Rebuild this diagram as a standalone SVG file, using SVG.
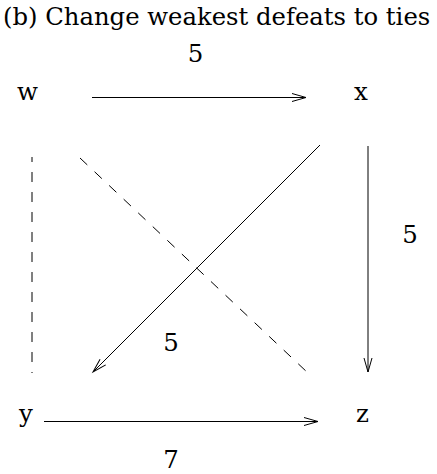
<svg xmlns="http://www.w3.org/2000/svg" width="437" height="474" viewBox="0 0 437 474">
<style>
text{font-family:'DejaVu Serif','Liberation Serif',serif;fill:#000}
.lbl{font-size:24.5px}
.c{text-anchor:middle}
.ln{stroke:#000;stroke-width:1;fill:none}
.dash{stroke:#000;stroke-width:1;fill:none;stroke-dasharray:10 10}
</style>
<defs>
<marker id="ah" markerUnits="userSpaceOnUse" markerWidth="20" markerHeight="12" viewBox="-1 -6 17 12" refX="14" refY="0" orient="auto">
<path d="M0,-4 L14,0 L0,4" fill="none" stroke="#000" stroke-width="1"/>
</marker>
</defs>
<rect width="437" height="474" fill="#fff"/>
<text x="3" y="25" font-size="24.3">(b) Change weakest defeats to ties</text>
<g id="connectors">
<line class="ln" x1="92" y1="97.5" x2="306" y2="97.5" marker-end="url(#ah)"/>
<line class="ln" x1="368" y1="146" x2="368" y2="372" marker-end="url(#ah)"/>
<line class="ln" x1="320" y1="145" x2="93" y2="372" marker-end="url(#ah)"/>
<line class="ln" x1="44" y1="421.5" x2="318" y2="421.5" marker-end="url(#ah)"/>
<line class="dash" x1="32" y1="157" x2="32" y2="373" stroke-dashoffset="5"/>
<line class="dash" x1="80" y1="158" x2="308" y2="373"/>
<text class="lbl c" x="195.5" y="62">5</text>
<text class="lbl c" x="410" y="243">5</text>
<text class="lbl c" x="171" y="351">5</text>
<text class="lbl c" x="171" y="468">7</text>
</g>
<g id="node-w"><text class="lbl" x="17" y="100">w</text></g>
<g id="node-x"><text class="lbl" x="354" y="100">x</text></g>
<g id="node-y"><text class="lbl" x="19" y="422">y</text></g>
<g id="node-z"><text class="lbl" x="356" y="422">z</text></g>
</svg>
